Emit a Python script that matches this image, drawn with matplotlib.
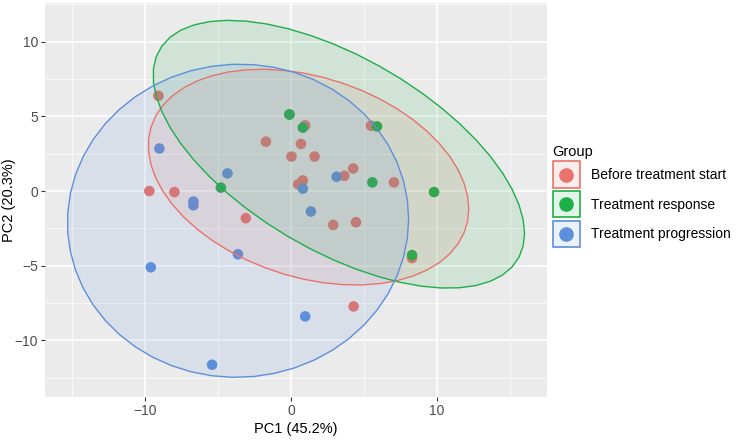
import matplotlib
matplotlib.use("Agg")
import matplotlib.pyplot as plt
from matplotlib.patches import Polygon, Rectangle
from matplotlib.lines import Line2D
from matplotlib.legend_handler import HandlerBase
import numpy as np

plt.rcParams['font.family'] = ['Liberation Sans', 'DejaVu Sans']

groups = ["Before treatment start", "Treatment response", "Treatment progression"]
colors = ["#E8736C", "#1DAF48", "#5D8FDB"]

before_x = [-9.08, -1.71, -9.70, -7.98, -3.09, 0.98, 5.49, 0.69, 0.04, 1.62,
            4.27, 3.66, 0.82, 0.50, 7.06, 2.90, 4.46, 8.30, 4.30]
before_y = [6.38, 3.31, 0.00, -0.07, -1.82, 4.40, 4.38, 3.16, 2.31, 2.31,
            1.51, 1.02, 0.71, 0.45, 0.58, -2.27, -2.09, -4.49, -7.73]
# one response sample sits exactly on top of another at (-0.1, 5.13)
response_x = [-0.10, -0.10, 0.82, 5.90, -4.80, 5.58, 9.81, 8.30]
response_y = [5.13, 5.13, 4.25, 4.33, 0.23, 0.58, -0.07, -4.29]
progress_x = [-9.01, -4.35, -6.68, -6.68, -3.63, -9.60, 3.13, 0.82, 1.37, 0.98, -5.40]
progress_y = [2.85, 1.18, -0.70, -0.95, -4.24, -5.11, 0.96, 0.16, -1.37, -8.40, -11.64]

data = [(before_x, before_y), (response_x, response_y), (progress_x, progress_y)]


def cov_trob(x, nu=5, maxit=25, tol=0.01):
    # port of MASS::cov.trob (what ggplot2 stat_ellipse uses by default)
    n, p = x.shape
    wt = np.ones(n)
    loc = x.mean(axis=0)
    w = np.sqrt(wt)
    for _ in range(maxit):
        w0 = w
        X = x - loc
        _, d, vt = np.linalg.svd(np.sqrt(w / w.sum())[:, None] * X, full_matrices=False)
        wX = X @ vt.T @ np.diag(1 / d)
        Q = (wX ** 2).sum(axis=1)
        w = wt * (nu + p) / (nu + Q)
        loc = (w[:, None] * x).sum(axis=0) / w.sum()
        if np.all(np.abs(w - w0) < tol):
            break
    cov = (np.sqrt(w)[:, None] * X).T @ (np.sqrt(w)[:, None] * X) / wt.sum()
    return cov, loc


def ellipse_pts(xs, ys, level=0.95, segments=51):
    pts = np.column_stack([xs, ys])
    cov, center = cov_trob(pts)
    dfd = len(xs) - 1
    fq = dfd / 2 * ((1 - level) ** (-2 / dfd) - 1)  # qf(level, 2, dfd)
    radius = np.sqrt(2 * fq)
    ang = np.linspace(0, 2 * np.pi, segments + 1)
    circ = np.column_stack([np.cos(ang), np.sin(ang)])
    R = np.linalg.cholesky(cov).T
    return center + radius * circ @ R


fig = plt.figure(figsize=(7.4, 4.4), dpi=100)
ax = fig.add_axes([45 / 740, 1 - 397 / 440, 502 / 740, 394 / 440])
ax.set_facecolor("#EBEBEB")

for (xs, ys), c in zip(data, colors):
    ax.scatter(xs, ys, s=58, color=c, edgecolors="none", zorder=2)

for (xs, ys), c in zip(data, colors):
    e = ellipse_pts(xs, ys)
    ax.add_patch(Polygon(e, closed=True, facecolor=c, alpha=0.12, edgecolor="none", zorder=3))
    ax.add_patch(Polygon(e, closed=True, facecolor="none", edgecolor=c, lw=1.0, zorder=4))

ax.set_xlim(-16.85, 17.55)
ax.set_ylim(-13.8, 12.6)
ax.set_xticks([-10, 0, 10])
ax.set_yticks([-10, -5, 0, 5, 10])
ax.set_xticks([-15, -5, 5, 15], minor=True)
ax.set_yticks([-12.5, -7.5, -2.5, 2.5, 7.5, 12.5], minor=True)
ax.grid(which="major", color="white", lw=1.1, zorder=0)
ax.grid(which="minor", color="white", lw=0.5, zorder=0)
ax.set_axisbelow(True)
for s in ax.spines.values():
    s.set_visible(False)
ax.tick_params(which="major", length=3, width=0.8, color="#333333", labelsize=10,
               labelcolor="#4D4D4D", pad=2)
ax.tick_params(which="minor", length=0)
ax.set_xlabel("PC1 (45.2%)", fontsize=10.5, labelpad=3)
ax.set_ylabel("PC2 (20.3%)", fontsize=10.5)
ax.yaxis.set_label_coords(-29 / 502, 0.5)


class KeyHandler(HandlerBase):
    def create_artists(self, legend, orig, xd, yd, width, height, fontsize, trans):
        c = orig.get_color()
        x0, y0 = -xd, -yd
        r = Rectangle((x0, y0), width, height, facecolor=c, alpha=0.12,
                      edgecolor="none", transform=trans)
        r2 = Rectangle((x0 + 0.6, y0 + 0.6), width - 1.2, height - 1.2, facecolor="none",
                       edgecolor=c, lw=1.2, transform=trans)
        m = Line2D([x0 + width / 2], [y0 + height / 2], marker="o", ms=9.5,
                   color=c, lw=0, transform=trans)
        return [r, r2, m]


handles = [Line2D([], [], color=c) for c in colors]
leg = fig.legend(handles, groups, title="Group", loc="upper left",
                 bbox_to_anchor=(547 / 740, 1 - 139 / 440), frameon=False,
                 handler_map={Line2D: KeyHandler()}, handlelength=2.0,
                 handleheight=2.7, handletextpad=0.8, labelspacing=0.15,
                 fontsize=10, title_fontsize=10.5, borderaxespad=0)
leg._legend_box.align = "left"

fig.savefig("out.png", dpi=100)
